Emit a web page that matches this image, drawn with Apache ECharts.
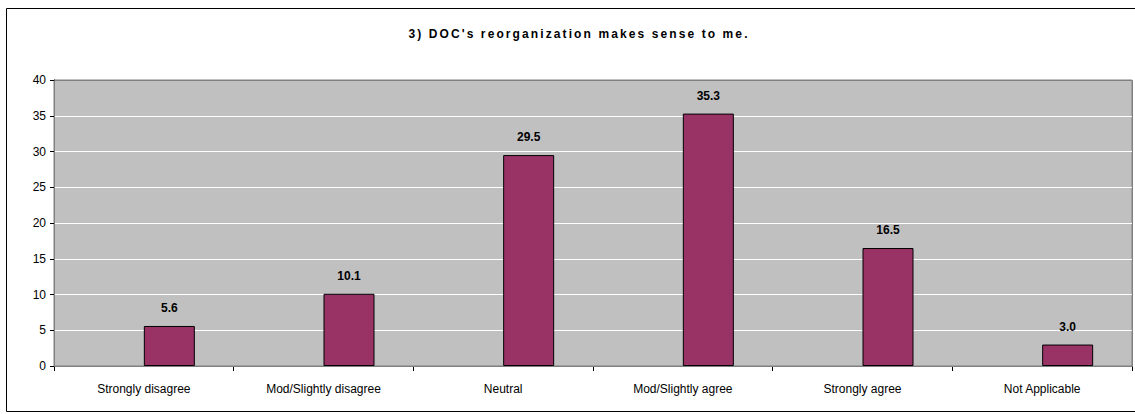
<!DOCTYPE html>
<html><head><meta charset="utf-8">
<script src="https://cdn.jsdelivr.net/npm/echarts@6/dist/echarts.min.js"></script>
<style>html,body{margin:0;padding:0;background:#fff}#c{width:1135px;height:414px}</style>
</head><body><div id="c"></div>
<script>
const titleText = "3) DOC's reorganization makes sense to me.";
const categories = ["Strongly disagree", "Mod/Slightly disagree", "Neutral", "Mod/Slightly agree", "Strongly agree", "Not Applicable"];
const values = [5.6, 10.1, 29.5, 35.3, 16.5, 3.0];
const placeholder = [null, null, null, null, null, null];
const yTicks = { min: 0, max: 40, interval: 5 };

const chart = echarts.init(document.getElementById('c'), null, { renderer: 'svg' });
const font = 'Arial, "Liberation Sans", sans-serif';
chart.setOption({
  animation: false,
  backgroundColor: '#fff',
  title: {
    text: titleText, left: 574, top: 23, textAlign: 'center',
    textStyle: { fontFamily: font, fontSize: 12, fontWeight: 'bold', color: '#000' }
  },
  graphic: [
    { type: 'rect', shape: { x: 6.5, y: 8.5, width: 1140, height: 403 }, style: { fill: 'none', stroke: '#000', lineWidth: 1 }, silent: true, z: 0 },
    { type: 'rect', shape: { x: 54.5, y: 80.5, width: 1078, height: 286 }, style: { fill: 'none', stroke: '#808080', lineWidth: 1 }, silent: true, z: 1 }
  ],
  grid: { left: 54, top: 80, width: 1078, height: 286, show: true, backgroundColor: '#C0C0C0', borderColor: '#808080', borderWidth: 1 },
  xAxis: {
    type: 'category', data: categories,
    axisLine: { lineStyle: { color: '#000', width: 1 } },
    axisTick: { show: true, length: 5, lineStyle: { color: '#000' } },
    axisLabel: { fontFamily: font, fontSize: 12, color: '#000', margin: 17, interval: 0 },
    splitLine: { show: false }
  },
  yAxis: {
    type: 'value', min: yTicks.min, max: yTicks.max, interval: yTicks.interval,
    axisLine: { show: true, lineStyle: { color: '#000', width: 1 } },
    axisTick: { show: true, length: 4, lineStyle: { color: '#000' } },
    axisLabel: { fontFamily: font, fontSize: 12, color: '#000', margin: 8 },
    splitLine: { show: true, lineStyle: { color: '#fff', width: 1 } }
  },
  series: [
    { type: 'bar', name: 'blank', data: placeholder, barWidth: 51, barGap: '0%', silent: true },
    {
      type: 'bar', name: 'Percent', data: values, barWidth: 51, barGap: '0%',
      itemStyle: { color: '#993366', borderColor: '#000', borderWidth: 1 },
      label: {
        show: true, position: 'top', distance: 12,
        formatter: p => p.value.toFixed(1),
        fontFamily: font, fontSize: 12, fontWeight: 'bold', color: '#000'
      }
    }
  ]
});
// widen the title's letter spacing like the original
document.querySelectorAll('#c text').forEach(t => {
  if (t.textContent === titleText) t.setAttribute('letter-spacing', '2.1');
});
</script></body></html>
